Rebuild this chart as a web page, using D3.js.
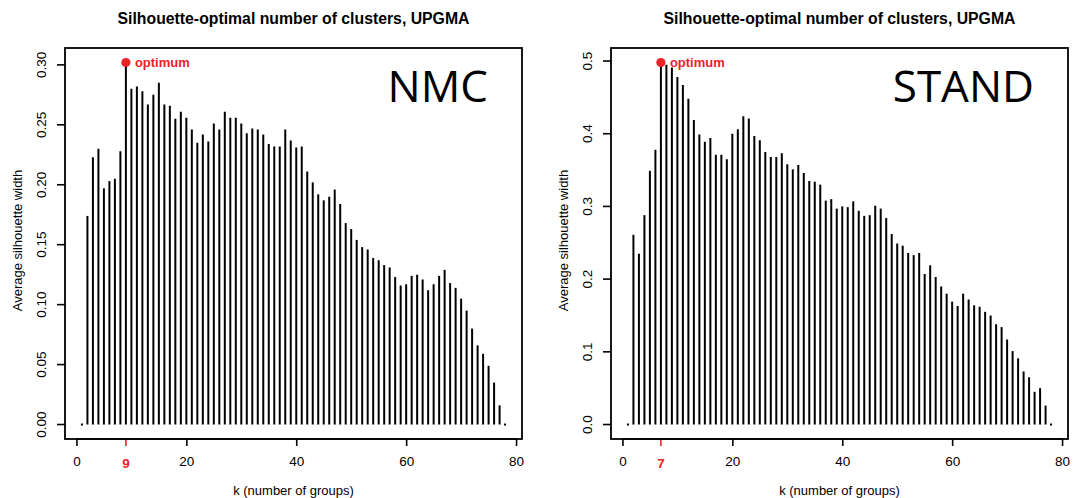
<!DOCTYPE html>
<html>
<head>
<meta charset="utf-8">
<script src="https://cdn.jsdelivr.net/npm/d3@7"></script>
<style>
  body { margin: 0; background: #fff; }
  svg { display: block; font-family: "Liberation Sans", Arial, sans-serif; }
</style>
</head>
<body>
<script>
// average silhouette width for k = 1..78 (k=1 and k=78 are zero)
const nmcWidth = [
  0, 0.174, 0.223, 0.230, 0.197, 0.203, 0.205, 0.228, 0.302, 0.280,
  0.282, 0.278, 0.267, 0.275, 0.285, 0.267, 0.266, 0.255, 0.261, 0.256,
  0.246, 0.235, 0.242, 0.236, 0.251, 0.246, 0.261, 0.256, 0.256, 0.251,
  0.243, 0.247, 0.246, 0.242, 0.234, 0.232, 0.232, 0.246, 0.237, 0.231,
  0.232, 0.211, 0.202, 0.192, 0.187, 0.190, 0.196, 0.184, 0.168, 0.163,
  0.154, 0.148, 0.146, 0.139, 0.137, 0.133, 0.131, 0.123, 0.116, 0.117,
  0.124, 0.125, 0.121, 0.112, 0.117, 0.124, 0.129, 0.118, 0.114, 0.105,
  0.095, 0.080, 0.066, 0.059, 0.049, 0.035, 0.016, 0
];
const standWidth = [
  0, 0.261, 0.235, 0.288, 0.349, 0.378, 0.498, 0.495, 0.491, 0.478,
  0.467, 0.448, 0.419, 0.399, 0.389, 0.394, 0.371, 0.371, 0.365, 0.400,
  0.406, 0.424, 0.421, 0.397, 0.391, 0.375, 0.368, 0.368, 0.373, 0.358,
  0.351, 0.357, 0.346, 0.335, 0.334, 0.330, 0.308, 0.310, 0.297, 0.300,
  0.299, 0.307, 0.294, 0.287, 0.288, 0.301, 0.297, 0.284, 0.262, 0.249,
  0.246, 0.236, 0.233, 0.236, 0.207, 0.219, 0.203, 0.190, 0.180, 0.169,
  0.163, 0.180, 0.172, 0.164, 0.162, 0.155, 0.150, 0.138, 0.134, 0.117,
  0.101, 0.091, 0.073, 0.065, 0.045, 0.050, 0.026, 0
];
const xTicks = [0, 20, 40, 60, 80];
const nmcTicks = [0, 0.05, 0.10, 0.15, 0.20, 0.25, 0.30];
const standTicks = [0, 0.1, 0.2, 0.3, 0.4, 0.5];

const W = 1073, H = 498;
const RED = "#ec2227";
const svg = d3.select("body").append("svg").attr("width", W).attr("height", H);

function panel(opts) {
  const { values, yTicks, yFmt, left, right, tag } = opts;
  const top = 48, bottom = 439;
  const data = values.map((v, i) => ({ k: i + 1, v }));
  const n = data.length;

  // R style: 4% padding around data range
  const xpad = (n - 1) * 0.04;
  const x = d3.scaleLinear().domain([1 - xpad, n + xpad]).range([left, right]);
  const ymax = d3.max(values);
  const y = d3.scaleLinear().domain([-ymax * 0.04, ymax * 1.04]).range([bottom, top]);

  const best = data.reduce((a, b) => (b.v > a.v ? b : a));

  const g = svg.append("g");

  g.append("text")
    .attr("x", (left + right) / 2).attr("y", 24)
    .attr("text-anchor", "middle")
    .style("font-weight", "bold").style("font-size", "15.8px")
    .text("Silhouette-optimal number of clusters, UPGMA");

  // bars (type = "h")
  g.selectAll("line.bar").data(data.filter(d => d.v > 0)).enter()
    .append("line").attr("class", "bar")
    .attr("x1", d => x(d.k)).attr("x2", d => x(d.k))
    .attr("y1", d => y(0)).attr("y2", d => y(d.v))
    .attr("stroke", "#000").attr("stroke-width", 2);

  g.selectAll("rect.zero").data(data.filter(d => d.v === 0)).enter()
    .append("rect").attr("class", "zero")
    .attr("x", d => x(d.k) - 1).attr("y", y(0) - 1)
    .attr("width", 2).attr("height", 2).attr("fill", "#000");

  // optimum marker
  g.append("circle")
    .attr("cx", x(best.k)).attr("cy", y(best.v)).attr("r", 4.6)
    .attr("fill", RED);
  g.append("text")
    .attr("x", x(best.k) + 9).attr("y", y(best.v) + 4.5)
    .attr("fill", RED).style("font-weight", "bold").style("font-size", "13px")
    .text("optimum");

  // x axis
  const xa = g.append("g").attr("transform", `translate(0,${bottom})`)
    .call(d3.axisBottom(x).tickValues(xTicks).tickSize(7).tickPadding(10).tickFormat(d3.format("d")));
  xa.select(".domain").remove();
  xa.selectAll("line").attr("stroke-width", 1.6);
  xa.selectAll("text").style("font-size", "13.5px").attr("fill", "#000");
  xa.append("line")
    .attr("x1", x(xTicks[0])).attr("x2", x(xTicks[xTicks.length - 1]))
    .attr("stroke", "#000").attr("stroke-width", 1.6);

  // red tick for the optimum
  g.append("line")
    .attr("x1", x(best.k)).attr("x2", x(best.k))
    .attr("y1", bottom).attr("y2", bottom + 7)
    .attr("stroke", RED).attr("stroke-width", 1.6);
  g.append("text")
    .attr("x", x(best.k)).attr("y", bottom + 29)
    .attr("text-anchor", "middle").attr("fill", RED)
    .style("font-weight", "bold").style("font-size", "13.5px")
    .text(best.k);

  // y axis
  const ya = g.append("g").attr("transform", `translate(${left},0)`)
    .call(d3.axisLeft(y).tickValues(yTicks).tickSize(8).tickFormat(d3.format(yFmt)));
  ya.select(".domain").remove();
  ya.selectAll("line").attr("stroke-width", 1.6);
  ya.selectAll("text")
    .style("font-size", "13.5px").attr("fill", "#000")
    .attr("x", null).attr("dy", null)
    .attr("text-anchor", "middle")
    .attr("transform", d => `translate(-19,${y(d)}) rotate(-90)`)
    .attr("y", 0);
  ya.selectAll(".tick").attr("transform", null);
  ya.selectAll(".tick line").attr("transform", d => `translate(0,${y(d)})`);

  // box
  g.append("rect")
    .attr("x", left).attr("y", top)
    .attr("width", right - left).attr("height", bottom - top)
    .attr("fill", "none").attr("stroke", "#000").attr("stroke-width", 1.8);

  g.append("text")
    .attr("x", (left + right) / 2).attr("y", 495)
    .attr("text-anchor", "middle").style("font-size", "13px")
    .text("k (number of groups)");

  g.append("text")
    .attr("transform", `translate(${left - 43},${(top + bottom) / 2 - 3}) rotate(-90)`)
    .attr("text-anchor", "middle").style("font-size", "13px")
    .text("Average silhouette width");

  g.append("text")
    .attr("x", right - 34).attr("y", 102)
    .attr("text-anchor", "end")
    .style("font-family", "'Open Sans', 'Noto Sans', sans-serif")
    .style("font-size", "44px")
    .text(tag);
}

panel({ values: nmcWidth, yTicks: nmcTicks, yFmt: ".2f", left: 65, right: 522, tag: "NMC" });
panel({ values: standWidth, yTicks: standTicks, yFmt: ".1f", left: 611, right: 1068, tag: "STAND" });
</script>
</body>
</html>
